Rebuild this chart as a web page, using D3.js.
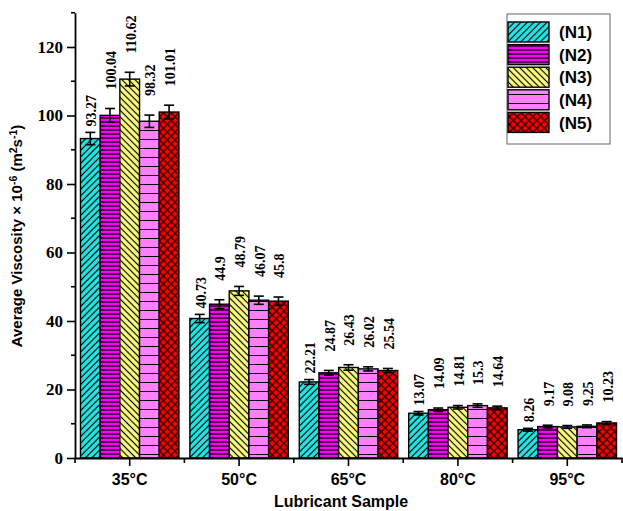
<!DOCTYPE html>
<html>
<head>
<meta charset="utf-8">
<script src="https://cdn.jsdelivr.net/npm/d3@7"></script>
<style>
  body { margin: 0; background: #fff; }
  svg { display: block; }
</style>
</head>
<body>
<svg id="chart" width="623" height="511"></svg>
<script>
// Temperatures on the x axis and the five lubricant samples
const categories = ["35°C", "50°C", "65°C", "80°C", "95°C"];
const seriesNames = ["(N1)", "(N2)", "(N3)", "(N4)", "(N5)"];

// Average viscosity (×10⁻⁶ m²/s) per sample, one entry per temperature
const n1 = [93.27, 40.73, 22.21, 13.07, 8.26];
const n2 = [100.04, 44.9, 24.87, 14.09, 9.17];
const n3 = [110.62, 48.79, 26.43, 14.81, 9.08];
const n4 = [98.32, 46.07, 26.02, 15.3, 9.25];
const n5 = [101.01, 45.8, 25.54, 14.64, 10.23];

// Error bar half-heights
const errN1 = [1.8, 1.2, 0.7, 0.5, 0.4];
const errN2 = [2.0, 1.3, 0.7, 0.5, 0.4];
const errN3 = [2.0, 1.3, 0.8, 0.5, 0.4];
const errN4 = [1.8, 1.2, 0.6, 0.5, 0.4];
const errN5 = [2.0, 1.2, 0.6, 0.5, 0.4];

const yTicks = [0, 20, 40, 60, 80, 100, 120];
const yMinorTicks = [10, 30, 50, 70, 90, 110, 130];

const values = [n1, n2, n3, n4, n5];
const errors = [errN1, errN2, errN3, errN4, errN5];

const svg = d3.select("#chart");
const serif = "'Liberation Serif', 'Times New Roman', serif";
const sans = "'Liberation Sans', Arial, sans-serif";

// Scales
const y = d3.scaleLinear().domain([0, 130]).range([458, 12.75]);
const x0 = d3.scaleBand().domain(categories).range([75, 622])
  .paddingInner(0.1).paddingOuter(0.05);
const x1 = d3.scaleBand().domain(seriesNames).range([0, x0.bandwidth()]);

// Hatch patterns for each sample
const defs = svg.append("defs");
function hatch(id, fill, size, angle, lines) {
  const p = defs.append("pattern").attr("id", id)
    .attr("patternUnits", "userSpaceOnUse")
    .attr("width", size).attr("height", size)
    .attr("patternTransform", angle ? `rotate(${angle})` : null);
  p.append("rect").attr("width", size).attr("height", size).attr("fill", fill);
  lines(p, size);
}
const vLine = w => (p, s) => p.append("line").attr("x1", s / 2).attr("x2", s / 2)
  .attr("y1", 0).attr("y2", s).attr("stroke", "#000").attr("stroke-width", w);
const hLine = w => (p, s) => p.append("line").attr("y1", s / 2).attr("y2", s / 2)
  .attr("x1", 0).attr("x2", s).attr("stroke", "#000").attr("stroke-width", w);

hatch("pat0", "#22E8E8", 4.6, 45, vLine(1.2));
hatch("pat1", "#FF00FF", 4, 0, hLine(1.3));
hatch("pat2", "#FFFF80", 4.6, -45, vLine(1.2));
hatch("pat3", "#FF80FF", 9, 0, hLine(1));
hatch("pat4", "#FF0000", 5.5, 45, (p, s) => { vLine(1.1)(p, s); hLine(1.1)(p, s); });

// Gap between error bar cap and the rotated value label, per sample
const labelGap = [6, 19, 19, 19, 19];

// Bars, error bars and value labels
seriesNames.forEach((name, si) => {
  const g = svg.append("g");
  categories.forEach((cat, ci) => {
    const v = values[si][ci];
    const e = errors[si][ci];
    const bx = x0(cat) + x1(name);
    const bw = x1.bandwidth();
    const cx = bx + bw / 2;
    g.append("rect")
      .attr("x", bx).attr("y", y(v))
      .attr("width", bw).attr("height", y(0) - y(v))
      .attr("fill", `url(#pat${si})`)
      .attr("stroke", "#000").attr("stroke-width", 1.4);
    // error bar
    const eg = g.append("g").attr("stroke", "#000").attr("stroke-width", 1.6);
    eg.append("line").attr("x1", cx).attr("x2", cx).attr("y1", y(v - e)).attr("y2", y(v + e));
    [v - e, v + e].forEach(t => eg.append("line")
      .attr("x1", cx - 5).attr("x2", cx + 5).attr("y1", y(t)).attr("y2", y(t)));
    // value label
    g.append("text")
      .attr("transform", `translate(${cx + 1},${y(v + e) - labelGap[si]}) rotate(-90)`)
      .attr("dy", "0.35em")
      .attr("font-family", serif).attr("font-weight", "bold").attr("font-size", 14)
      .text(String(v));
  });
});

// Y axis
const yAxis = svg.append("g").attr("transform", "translate(75,0)")
  .call(d3.axisLeft(y).tickValues(yTicks).tickSize(8).tickSizeOuter(0).tickPadding(4));
yAxis.selectAll("text").attr("font-family", serif).attr("font-weight", "bold")
  .attr("font-size", 17).attr("fill", "#000");
yAxis.selectAll("line").attr("stroke-width", 1.6);
yAxis.select(".domain").attr("stroke-width", 1.8);
yAxis.selectAll(".minor").data(yMinorTicks).enter().append("line")
  .attr("x1", -4).attr("x2", 0).attr("y1", d => y(d)).attr("y2", d => y(d))
  .attr("stroke", "#000").attr("stroke-width", 1.6);

// X axis
const xAxis = svg.append("g").attr("transform", `translate(0,${y(0)})`)
  .call(d3.axisBottom(x0).tickSize(8).tickSizeOuter(0).tickPadding(8));
xAxis.selectAll("text").attr("font-family", sans).attr("font-weight", "bold")
  .attr("font-size", 16).attr("fill", "#000");
xAxis.selectAll("line").attr("stroke-width", 1.6);
xAxis.select(".domain").attr("stroke-width", 1.8);
const step = x0.step();
const bounds = categories.map(c => x0(c) + x0.bandwidth() / 2 - step / 2)
  .concat([x0(categories[categories.length - 1]) + x0.bandwidth() / 2 + step / 2]);
xAxis.selectAll(".minor").data(bounds).enter().append("line")
  .attr("x1", d => d).attr("x2", d => d).attr("y1", 0).attr("y2", 5)
  .attr("stroke", "#000").attr("stroke-width", 1.6);

// Axis titles
svg.append("text")
  .attr("transform", "translate(22,236) rotate(-90)")
  .attr("text-anchor", "middle")
  .attr("font-family", sans).attr("font-weight", "bold").attr("font-size", 15)
  .call(t => {
    t.append("tspan").text("Average Viscosity × 10");
    t.append("tspan").attr("dy", -5).attr("font-size", 10.5).text("-6");
    t.append("tspan").attr("dy", 5).text(" (m");
    t.append("tspan").attr("dy", -5).attr("font-size", 10.5).text("2");
    t.append("tspan").attr("dy", 5).text("s");
    t.append("tspan").attr("dy", -5).attr("font-size", 10.5).text("-1");
    t.append("tspan").attr("dy", 5).text(")");
  });

svg.append("text")
  .attr("x", 341).attr("y", 507)
  .attr("text-anchor", "middle")
  .attr("font-family", sans).attr("font-weight", "bold").attr("font-size", 16)
  .text("Lubricant Sample");

// Legend
const legend = svg.append("g");
legend.append("rect").attr("x", 507).attr("y", 14).attr("width", 103).attr("height", 130)
  .attr("fill", "#fff").attr("stroke", "#666").attr("stroke-width", 1);
seriesNames.forEach((name, i) => {
  const ly = 22 + i * 22.6;
  legend.append("rect").attr("x", 508).attr("y", ly).attr("width", 41).attr("height", 20)
    .attr("fill", `url(#pat${i})`).attr("stroke", "#000").attr("stroke-width", 1.4);
  legend.append("text").attr("x", 559).attr("y", ly + 10).attr("dy", "0.36em")
    .attr("font-family", sans).attr("font-weight", "bold").attr("font-size", 17)
    .text(name);
});
</script>
</body>
</html>
